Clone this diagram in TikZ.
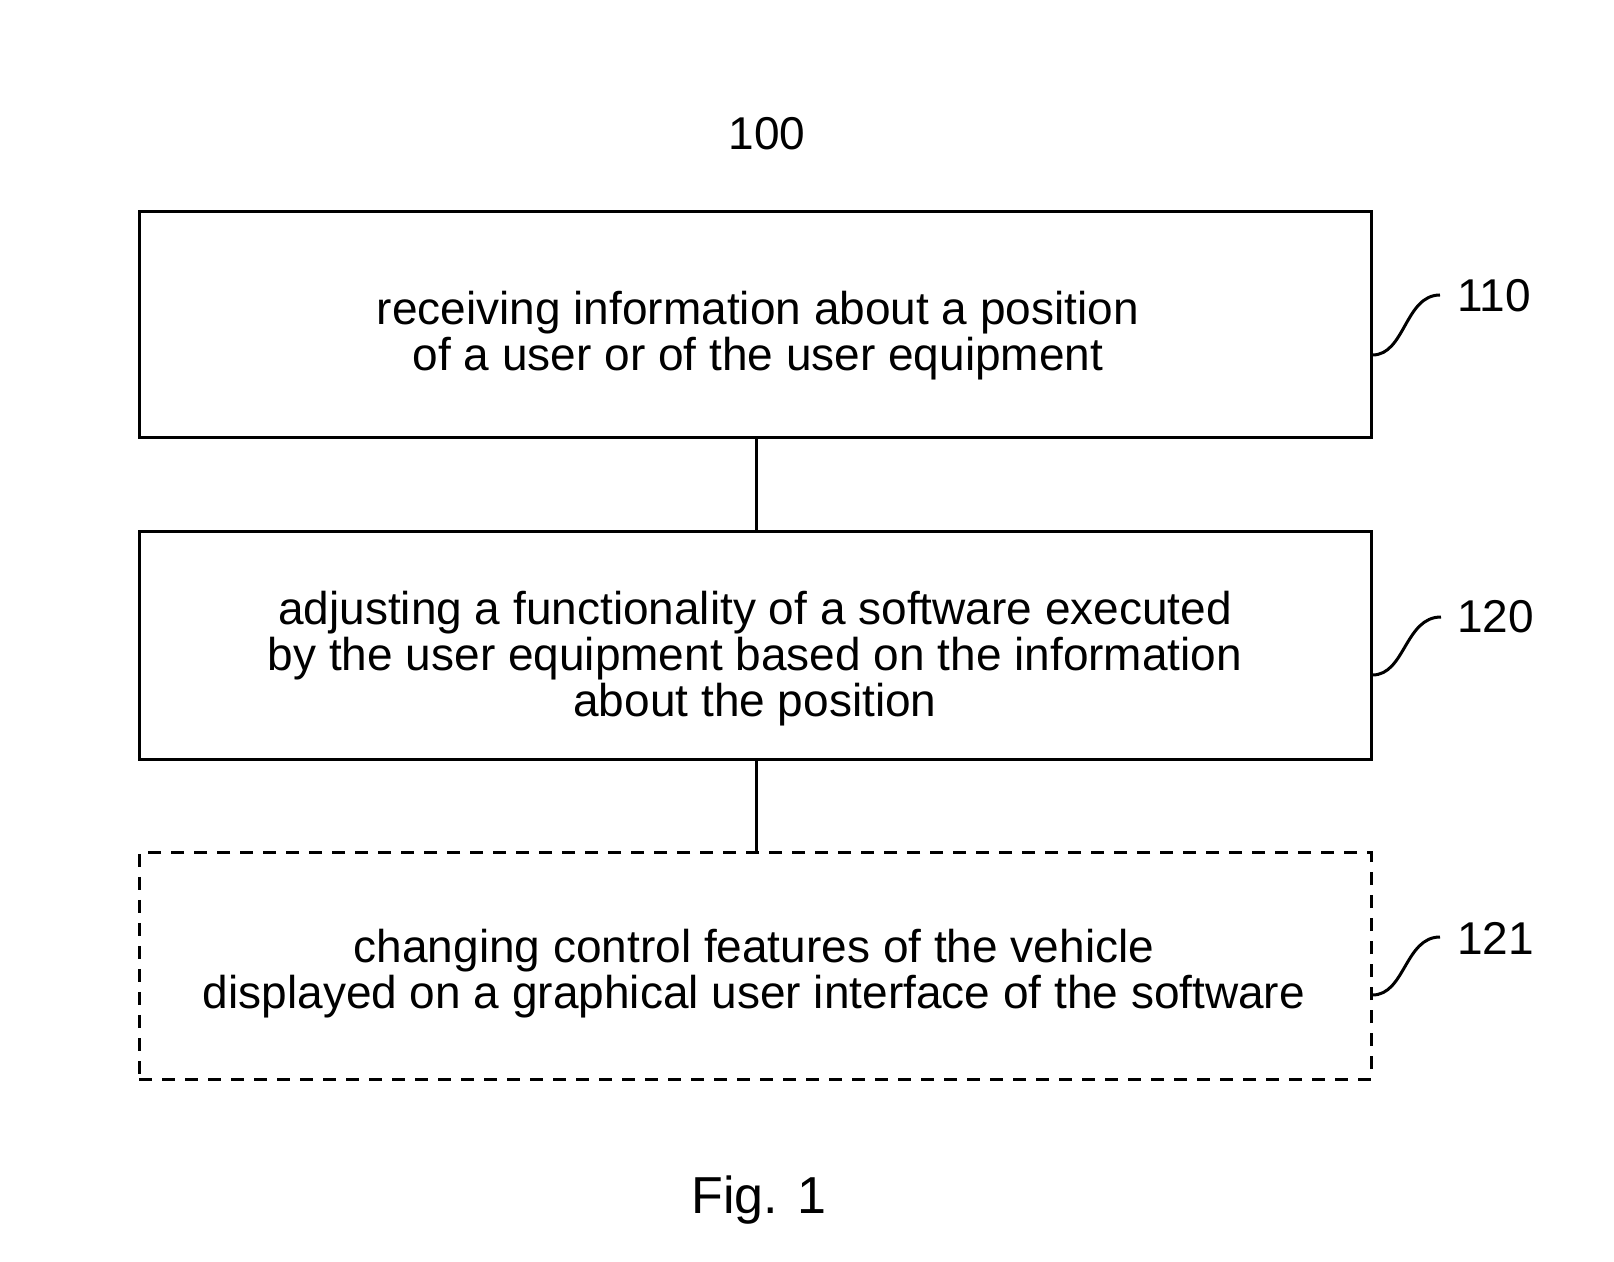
\documentclass[tikz,border=0pt]{standalone}
\usepackage{fontspec}
\setmainfont{Liberation Sans}
\begin{document}
\begin{tikzpicture}[x=0.5pt,y=-0.5pt,
  stepbox/.style={draw,line width=1.5pt,minimum width=616pt,inner sep=0pt},
  optbox/.style={stepbox,dash pattern=on 6.5pt off 5pt},
  boxtext/.style={align=center,font=\fontsize{23pt}{23pt}\selectfont,inner sep=0pt},
  reflabel/.style={anchor=west,font=\fontsize{23pt}{23pt}\selectfont,inner sep=0pt},
  leader/.style={line width=1.5pt}]
\useasboundingbox (0,0) rectangle (1614,1262);
\node[font=\fontsize{23pt}{23pt}\selectfont] (title) at (767,134) {100};
\node[stepbox,minimum height=113pt] (b1) at (755,325) {};
\node[stepbox,minimum height=114pt] (b2) at (755,646) {};
\node[optbox,minimum height=113pt] (b3) at (755,966) {};
\node[boxtext] (t1) at (758,336) {receiving information about a position\\ of a user or of the user equipment};
\node[boxtext] (t2) at (755,659) {adjusting a functionality of a software executed\\by the user equipment based on the information\\about the position};
\node[boxtext] (t3) at (754,974) {changing control features of the vehicle\\displayed on a graphical user interface of the software};
\draw[line width=1.5pt] (b1.south -| 756,0) -- (b2.north -| 756,0);
\draw[line width=1.5pt] (b2.south -| 756,0) -- (b3.north -| 756,0);
\coordinate (e1) at (1440,295);
\coordinate (e2) at (1441,617);
\coordinate (e3) at (1440,937);
\node[reflabel] (l1) at (1457,296) {110};
\node[reflabel] (l2) at (1457,617) {120};
\node[reflabel] (l3) at (1457,938) {121};
\draw[leader] (b1.east |- 0,355) .. controls (1405,355) and (1405,295) .. (e1);
\draw[leader] (b2.east |- 0,675) .. controls (1405,675) and (1405,617) .. (e2);
\draw[leader] (b3.east |- 0,995) .. controls (1405,995) and (1405,937) .. (e3);
\node[font=\fontsize{26pt}{26pt}\selectfont] (fig) at (759,1200) {Fig. 1};
\end{tikzpicture}
\end{document}
